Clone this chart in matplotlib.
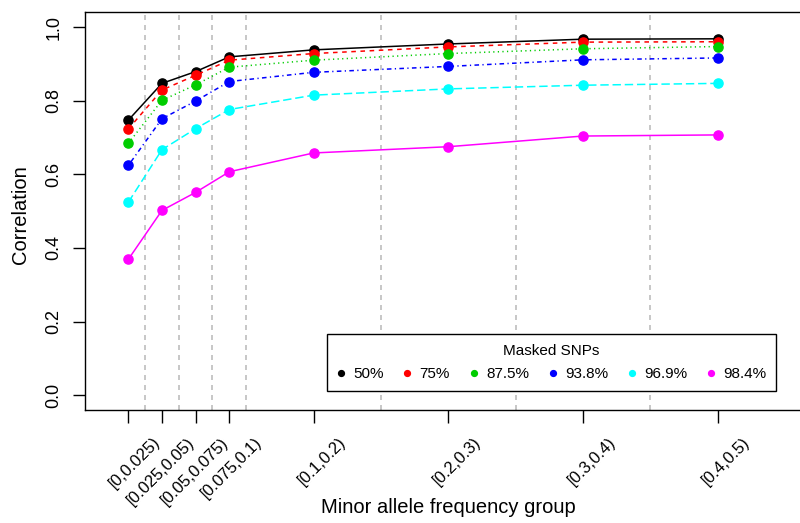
import matplotlib
matplotlib.use("Agg")
import matplotlib.pyplot as plt
from matplotlib.lines import Line2D
from matplotlib.transforms import ScaledTranslation

plt.rcParams['font.family'] = ['Liberation Sans', 'DejaVu Sans']

# ---- data ----
maf_labels = ["[0,0.025)", "[0.025,0.05)", "[0.05,0.075)", "[0.075,0.1)",
              "[0.1,0.2)", "[0.2,0.3)", "[0.3,0.4)", "[0.4,0.5)"]
maf_mid = [0.0125, 0.0375, 0.0625, 0.0875, 0.15, 0.25, 0.35, 0.45]
maf_bounds = [0.025, 0.05, 0.075, 0.1, 0.2, 0.3, 0.4]

masked_labels = ["50%", "75%", "87.5%", "93.8%", "96.9%", "98.4%"]
corr_50 = [0.747, 0.847, 0.879, 0.919, 0.938, 0.954, 0.967, 0.968]
corr_75 = [0.723, 0.829, 0.869, 0.910, 0.928, 0.946, 0.959, 0.960]
corr_875 = [0.684, 0.801, 0.843, 0.891, 0.910, 0.928, 0.941, 0.947]
corr_938 = [0.624, 0.751, 0.799, 0.852, 0.877, 0.893, 0.911, 0.916]
corr_969 = [0.524, 0.667, 0.724, 0.776, 0.815, 0.832, 0.842, 0.847]
corr_984 = [0.369, 0.502, 0.551, 0.607, 0.658, 0.675, 0.704, 0.707]
series = [corr_50, corr_75, corr_875, corr_938, corr_969, corr_984]

colors = ["#000000", "#FF0000", "#00CD00", "#0000FF", "#00FFFF", "#FF00FF"]
styles = ["-", (0, (3, 3)), (0, (0.8, 2.2)), (0, (0.8, 2.2, 3, 2.2)),
          (0, (5.5, 2.5)), "-"]

# ---- figure ----
W, H = 800, 523
fig = plt.figure(figsize=(W / 100, H / 100), dpi=100)
ax_l, ax_r, ax_t, ax_b = 84.5, 812.0, 12.3, 410.0
ax = fig.add_axes([ax_l / W, 1 - ax_b / H, (ax_r - ax_l) / W, (ax_b - ax_t) / H])

for b in maf_bounds:
    ax.axvline(b, color="#bebebe", lw=1.2, ls=(0, (3, 3)), zorder=1)

for vals, c, s in zip(series, colors, styles):
    ax.plot(maf_mid, vals, color=c, ls=s, lw=1.1, marker="o", ms=6.6,
            mec=c, mfc=c, zorder=3)

ax.set_xlim(-0.02, 0.52)
ax.set_ylim(-0.04, 1.04)

for sp in ax.spines.values():
    sp.set_linewidth(1.0)
    sp.set_color("black")

ax.set_yticks([0.0, 0.2, 0.4, 0.6, 0.8, 1.0])
ax.set_yticklabels(["0.0", "0.2", "0.4", "0.6", "0.8", "1.0"],
                   rotation=90, va="center", fontsize=13)
ax.tick_params(axis="y", length=9, width=1.0, pad=7)

ax.set_xticks(maf_mid)
ax.set_xticklabels(maf_labels, rotation=45, ha="right", va="center",
                   rotation_mode="anchor", fontsize=12)
ax.tick_params(axis="x", length=9, width=1.0, pad=12.5)
off = ScaledTranslation(30 / 100, 0, fig.dpi_scale_trans)
for lab in ax.get_xticklabels():
    lab.set_transform(lab.get_transform() + off)

ax.set_xlabel("Minor allele frequency group", fontsize=14.5)
ax.xaxis.set_label_coords(0.5, -(497.7 - ax_b) / (ax_b - ax_t))
ax.set_ylabel("Correlation", fontsize=14.5, va="center")
ax.yaxis.set_label_coords((21 - ax_l) / (ax_r - ax_l), (ax_b - 215) / (ax_b - ax_t))

handles = [Line2D([], [], ls="none", marker="o", ms=4.2, color=c) for c in colors]
leg = ax.legend(handles, masked_labels, title="Masked SNPs", ncol=6,
                loc="lower right", bbox_to_anchor=(776 / W, 1 - 391 / H),
                bbox_transform=fig.transFigure, fontsize=11, title_fontsize=11,
                frameon=True, fancybox=False, framealpha=1, edgecolor="black",
                handlelength=0.6, handletextpad=0.5, columnspacing=1.25,
                borderpad=0.65, labelspacing=0.6, borderaxespad=0)
leg.get_frame().set_linewidth(1.0)
leg.set_zorder(5)

fig.savefig("out.png", dpi=100)
